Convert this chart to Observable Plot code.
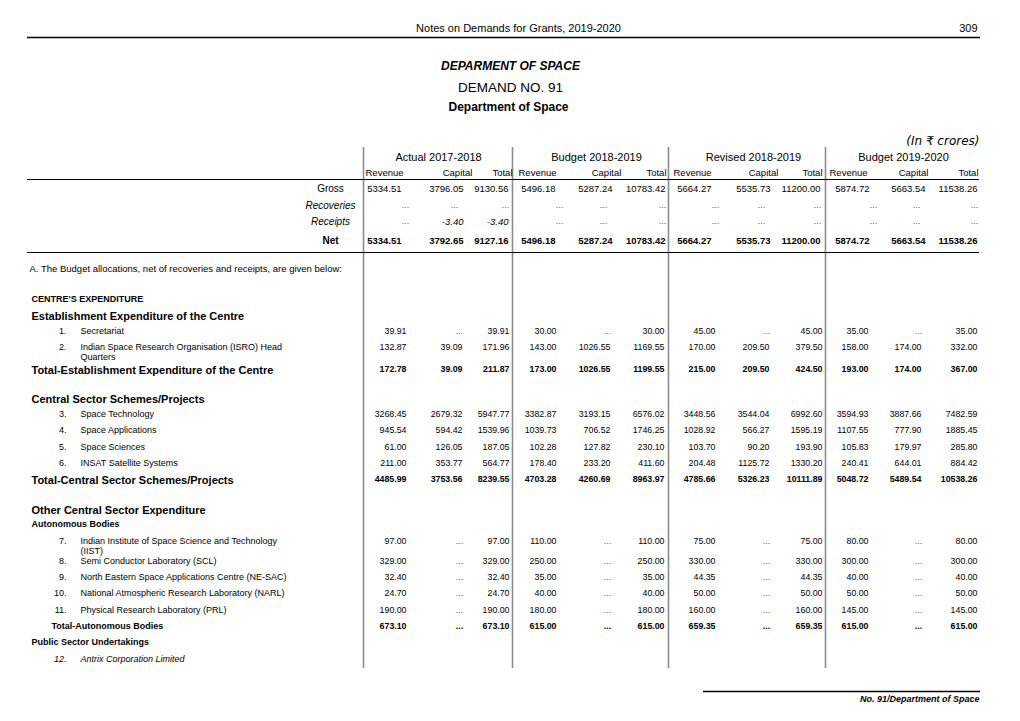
<!DOCTYPE html>
<html><head><meta charset="utf-8">
<script src="https://cdn.jsdelivr.net/npm/d3@7"></script>
<script src="https://cdn.jsdelivr.net/npm/@observablehq/plot@0.6"></script>
<style>
html,body{margin:0;padding:0;background:#fff;}
#chart svg{display:block;background:#fff;}
</style></head><body><div id="chart"></div>
<script>
// ---------------- DATA ----------------
const pageTitle = "Notes on Demands for Grants, 2019-2020";
const pageNumber = "309";
const titles = ["DEPARMENT OF SPACE", "DEMAND NO. 91", "Department of Space"];
const unitNote = "(In ₹ crores)";
const periods = ["Actual 2017-2018", "Budget 2018-2019", "Revised 2018-2019", "Budget 2019-2020"];
const subColumns = ["Revenue", "Capital", "Total"];
const summaryLabels = ["Gross", "Recoveries", "Receipts", "Net"];

const gross      = [5334.51, 3796.05, 9130.56, 5496.18, 5287.24, 10783.42, 5664.27, 5535.73, 11200.00, 5874.72, 5663.54, 11538.26];
const recoveries = [null, null, null, null, null, null, null, null, null, null, null, null];
const receipts   = [null, -3.40, -3.40, null, null, null, null, null, null, null, null, null];
const net        = [5334.51, 3792.65, 9127.16, 5496.18, 5287.24, 10783.42, 5664.27, 5535.73, 11200.00, 5874.72, 5663.54, 11538.26];

const noteText = "A. The Budget allocations, net of recoveries and receipts, are given below:";

const secretariat  = [39.91, null, 39.91, 30.00, null, 30.00, 45.00, null, 45.00, 35.00, null, 35.00];
const isroHQ       = [132.87, 39.09, 171.96, 143.00, 1026.55, 1169.55, 170.00, 209.50, 379.50, 158.00, 174.00, 332.00];
const totalEstab   = [172.78, 39.09, 211.87, 173.00, 1026.55, 1199.55, 215.00, 209.50, 424.50, 193.00, 174.00, 367.00];
const spaceTech    = [3268.45, 2679.32, 5947.77, 3382.87, 3193.15, 6576.02, 3448.56, 3544.04, 6992.60, 3594.93, 3887.66, 7482.59];
const spaceApps    = [945.54, 594.42, 1539.96, 1039.73, 706.52, 1746.25, 1028.92, 566.27, 1595.19, 1107.55, 777.90, 1885.45];
const spaceSci     = [61.00, 126.05, 187.05, 102.28, 127.82, 230.10, 103.70, 90.20, 193.90, 105.83, 179.97, 285.80];
const insat        = [211.00, 353.77, 564.77, 178.40, 233.20, 411.60, 204.48, 1125.72, 1330.20, 240.41, 644.01, 884.42];
const totalCentral = [4485.99, 3753.56, 8239.55, 4703.28, 4260.69, 8963.97, 4785.66, 5326.23, 10111.89, 5048.72, 5489.54, 10538.26];
const iist         = [97.00, null, 97.00, 110.00, null, 110.00, 75.00, null, 75.00, 80.00, null, 80.00];
const scl          = [329.00, null, 329.00, 250.00, null, 250.00, 330.00, null, 330.00, 300.00, null, 300.00];
const nesac        = [32.40, null, 32.40, 35.00, null, 35.00, 44.35, null, 44.35, 40.00, null, 40.00];
const narl         = [24.70, null, 24.70, 40.00, null, 40.00, 50.00, null, 50.00, 50.00, null, 50.00];
const prl          = [190.00, null, 190.00, 180.00, null, 180.00, 160.00, null, 160.00, 145.00, null, 145.00];
const totalAuto    = [673.10, null, 673.10, 615.00, null, 615.00, 659.35, null, 659.35, 615.00, null, 615.00];

const footerText = "No. 91/Department of Space";

// body rows: kind, item number, label lines, values
const bodyRows = [
  {kind: "note", label: [noteText]},
  {kind: "caps", label: ["CENTRE'S EXPENDITURE"]},
  {kind: "section", label: ["Establishment Expenditure of the Centre"]},
  {kind: "item", no: "1.", label: ["Secretariat"], values: secretariat},
  {kind: "item", no: "2.", label: ["Indian Space Research Organisation (ISRO) Head", "Quarters"], values: isroHQ},
  {kind: "total", label: ["Total-Establishment Expenditure of the Centre"], values: totalEstab},
  {kind: "section", label: ["Central Sector Schemes/Projects"]},
  {kind: "item", no: "3.", label: ["Space Technology"], values: spaceTech},
  {kind: "item", no: "4.", label: ["Space Applications"], values: spaceApps},
  {kind: "item", no: "5.", label: ["Space Sciences"], values: spaceSci},
  {kind: "item", no: "6.", label: ["INSAT Satellite Systems"], values: insat},
  {kind: "total", label: ["Total-Central Sector Schemes/Projects"], values: totalCentral},
  {kind: "section", label: ["Other Central Sector Expenditure"]},
  {kind: "caps", label: ["Autonomous Bodies"]},
  {kind: "item", no: "7.", label: ["Indian Institute of Space Science and Technology", "(IIST)"], values: iist},
  {kind: "item", no: "8.", label: ["Semi Conductor Laboratory (SCL)"], values: scl},
  {kind: "item", no: "9.", label: ["North Eastern Space Applications Centre (NE-SAC)"], values: nesac},
  {kind: "item", no: "10.", label: ["National Atmospheric Research Laboratory (NARL)"], values: narl},
  {kind: "item", no: "11.", label: ["Physical Research Laboratory (PRL)"], values: prl},
  {kind: "subtotal", label: ["Total-Autonomous Bodies"], values: totalAuto},
  {kind: "caps", label: ["Public Sector Undertakings"]},
  {kind: "itemItalic", no: "12.", label: ["Antrix Corporation Limited"]}
];

// ---------------- LAYOUT ----------------
const W = 1020, H = 721;
const bodyRowY = [268, 299, 316, 331, 347, 370, 399, 414, 430, 447, 463, 480, 510, 524, 541, 561, 577, 593, 610, 626, 642, 659];
const summaryRowY = [188, 205, 221, 240];
const sepX = [363, 512, 668, 825];
const groupCenterX = [438, 596, 753, 903];
const subHeadX = [[384, 457, 512], [537, 606, 666], [692, 763, 822], [848, 913, 978]];
const sumRightX = [[401, 463, 508], [555, 612, 665], [711, 770, 820], [869, 925, 977]];
const bodyRightX = [[406, 462, 509], [556, 610, 664], [715, 769, 822], [868, 921, 977]];
const sumDotShift = [4, -9, -3];
const bodyDotShift = [-3, -3, -3];

const SANS = "'Liberation Sans', Arial, Helvetica, sans-serif";
const NARROW = "'Liberation Sans Narrow', 'Arial Narrow', 'Liberation Sans', sans-serif";
const DEJAVU = "'DejaVu Sans', Verdana, sans-serif";
const styles = {
  header: {fontFamily: NARROW, fontSize: 11},
  t1: {fontFamily: NARROW, fontSize: 12, fontWeight: "bold", fontStyle: "italic"},
  t2: {fontFamily: NARROW, fontSize: 13.5},
  t3: {fontFamily: NARROW, fontSize: 12, fontWeight: "bold"},
  unit: {fontFamily: DEJAVU, fontSize: 12, fontStyle: "italic"},
  period: {fontFamily: SANS, fontSize: 11},
  sub: {fontFamily: SANS, fontSize: 9.5},
  sum: {fontFamily: SANS, fontSize: 9.5},
  sumI: {fontFamily: SANS, fontSize: 9.5, fontStyle: "italic"},
  sumB: {fontFamily: SANS, fontSize: 9.5, fontWeight: "bold"},
  sumLab: {fontFamily: SANS, fontSize: 10},
  sumLabI: {fontFamily: SANS, fontSize: 10, fontStyle: "italic"},
  sumLabB: {fontFamily: SANS, fontSize: 10, fontWeight: "bold"},
  note: {fontFamily: SANS, fontSize: 9.5},
  caps: {fontFamily: SANS, fontSize: 9, fontWeight: "bold"},
  section: {fontFamily: SANS, fontSize: 11, fontWeight: "bold"},
  item: {fontFamily: SANS, fontSize: 9},
  itemI: {fontFamily: SANS, fontSize: 9, fontStyle: "italic"},
  val: {fontFamily: SANS, fontSize: 8.8},
  valB: {fontFamily: SANS, fontSize: 8.8, fontWeight: "bold"},
  dots: {fontFamily: SANS, fontSize: 8.8, fill: "#555"},
  footer: {fontFamily: SANS, fontSize: 9, fontWeight: "bold", fontStyle: "italic"}
};

// ---------------- BUILD TEXT RECORDS ----------------
const fmt = v => v == null ? "..." : v.toFixed(2);
const T = [];
const put = (x, y, text, st, anchor = "start") => T.push({x, y, text, st, anchor});

put(518, 28, pageTitle, "header", "middle");
put(977, 28, pageNumber, "header", "end");
put(510, 66, titles[0], "t1", "middle");
put(510, 87, titles[1], "t2", "middle");
put(508, 107, titles[2], "t3", "middle");
put(979, 141, unitNote, "unit", "end");

periods.forEach((p, g) => {
  put(groupCenterX[g], 157, p, "period", "middle");
  subColumns.forEach((s, c) => put(subHeadX[g][c], 172, s, "sub", c === 2 ? "end" : "middle"));
});

const summarySeries = [gross, recoveries, receipts, net];
const sumLabStyles = ["sumLab", "sumLabI", "sumLabI", "sumLabB"];
const sumValStyles = ["sum", "sumI", "sumI", "sumB"];
summarySeries.forEach((vals, r) => {
  const y = summaryRowY[r];
  put(330, y, summaryLabels[r], sumLabStyles[r], "middle");
  vals.forEach((v, i) => {
    const g = Math.floor(i / 3), c = i % 3;
    if (v == null) put(sumRightX[g][c] + sumDotShift[c], y, "...", "dots", "middle");
    else put(sumRightX[g][c], y, fmt(v), sumValStyles[r], "end");
  });
});

bodyRows.forEach((row, r) => {
  const y = bodyRowY[r];
  switch (row.kind) {
    case "note": put(29, y, row.label[0], "note"); break;
    case "caps": put(31, y, row.label[0], "caps"); break;
    case "section": put(31, y, row.label[0], "section"); break;
    case "total": put(31, y, row.label[0], "section"); break;
    case "subtotal": put(51, y, row.label[0], "caps"); break;
    case "item":
    case "itemItalic": {
      const st = row.kind === "item" ? "item" : "itemI";
      put(66, y, row.no, st, "end");
      row.label.forEach((l, k) => put(80, y + k * 10, l, st));
      break;
    }
  }
  if (row.values) {
    const bold = row.kind === "total" || row.kind === "subtotal";
    const vy = row.kind === "total" ? y - 1 : y;
    row.values.forEach((v, i) => {
      const g = Math.floor(i / 3), c = i % 3;
      if (v == null) put(bodyRightX[g][c] + bodyDotShift[c], vy, "...", bold ? "valB" : "dots", "middle");
      else put(bodyRightX[g][c], vy, fmt(v), bold ? "valB" : "val", "end");
    });
  }
});
put(979, 699, footerText, "footer", "end");

// group records by style+anchor into text marks
const groups = d3.groups(T, d => d.st + "|" + d.anchor);
const textMarks = groups.map(([key, recs]) => {
  const [st, anchor] = key.split("|");
  return Plot.text(recs, {x: "x", y: "y", text: "text", textAnchor: anchor, fill: "#000", ...styles[st]});
});

// rules
const hRules = [
  {y: 37, x1: 27, x2: 980, w: 1.3},
  {y: 179, x1: 27, x2: 979, w: 1},
  {y: 252, x1: 27, x2: 979, w: 1},
  {y: 691, x1: 703, x2: 980, w: 1.3}
];
const vRules = sepX.map(x => ({x, y1: 147, y2: 668}));

const chart = Plot.plot({
  width: W, height: H,
  margin: 0,
  x: {domain: [0, W], range: [0, W], axis: null},
  y: {domain: [0, H], range: [0, H], axis: null},
  style: {background: "#fff"},
  marks: [
    Plot.ruleX(vRules, {x: "x", y1: "y1", y2: "y2", stroke: "#8c8c8c", strokeWidth: 1.6}),
    Plot.ruleY(hRules, {y: "y", x1: "x1", x2: "x2", stroke: "#000", strokeWidth: "w"}),
    ...textMarks
  ]
});
document.getElementById("chart").appendChild(chart);
</script></body></html>
